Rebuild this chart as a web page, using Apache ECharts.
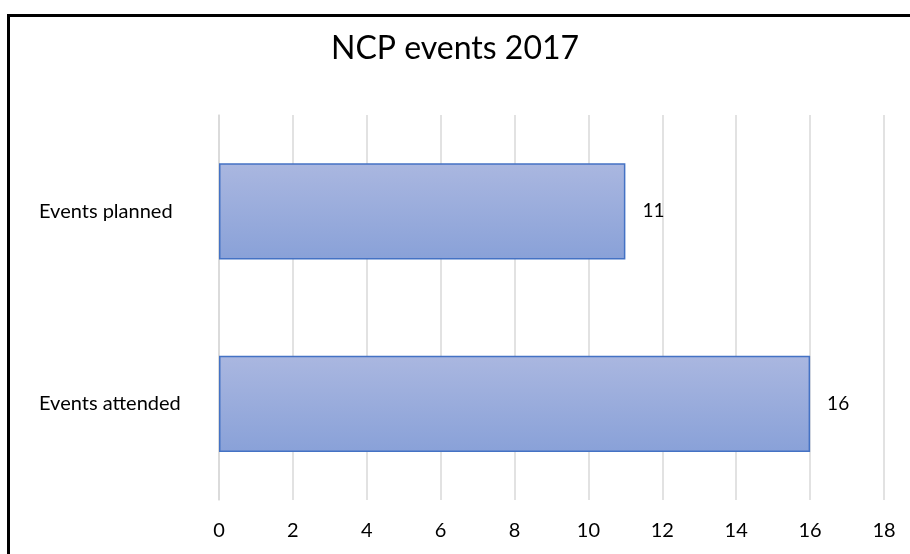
<!DOCTYPE html>
<html>
<head>
<meta charset="utf-8">
<script src="https://cdn.jsdelivr.net/npm/echarts@6/dist/echarts.min.js"></script>
<style>
html,body{margin:0;padding:0;background:#fff;overflow:hidden;}
#chart{position:absolute;left:0;top:0;width:910px;height:554px;}
</style>
</head>
<body>
<div id="chart"></div>
<script>
var titleText = 'NCP events 2017';
var categories = ['Events attended', 'Events planned'];
var values = [16, 11];
var axisMin = 0, axisMax = 18, axisInterval = 2;

var chart = echarts.init(document.getElementById('chart'), null, {renderer: 'canvas'});
chart.setOption({
  backgroundColor: '#fff',
  animation: false,
  graphic: [{
    type: 'polyline',
    shape: {points: [[8.5, 600], [8.5, 15.5], [960, 15.5]]},
    style: {stroke: '#000', lineWidth: 3, fill: null},
    silent: true
  }],
  title: {
    text: titleText,
    left: 'center',
    top: 28,
    textStyle: {fontFamily: 'Lato', fontSize: 32, fontWeight: 'normal', color: '#000'}
  },
  grid: {left: 219, right: 26, top: 115, bottom: 54, containLabel: false},
  xAxis: {
    type: 'value', min: axisMin, max: axisMax, interval: axisInterval,
    axisLine: {show: false}, axisTick: {show: false},
    splitLine: {show: true, lineStyle: {color: '#D9D9D9', width: 1.5}},
    axisLabel: {margin: 21, fontFamily: 'Lato', fontSize: 20, color: '#000'}
  },
  yAxis: {
    type: 'category', data: categories,
    axisLine: {show: true, lineStyle: {color: '#D9D9D9', width: 1.5}},
    axisTick: {show: false},
    axisLabel: {margin: 180, align: 'left', fontFamily: 'Lato', fontSize: 20, color: '#000'}
  },
  series: [{
    type: 'bar', data: values, barWidth: '50%',
    itemStyle: {
      color: new echarts.graphic.LinearGradient(0, 0, 0, 1, [
        {offset: 0, color: '#AAB7E0'},
        {offset: 1, color: '#89A1D8'}
      ]),
      borderColor: '#4472C4', borderWidth: 1.5
    },
    label: {show: true, position: 'right', distance: 17, fontFamily: 'Lato', fontSize: 19, color: '#000'}
  }]
});
</script>
</body>
</html>
